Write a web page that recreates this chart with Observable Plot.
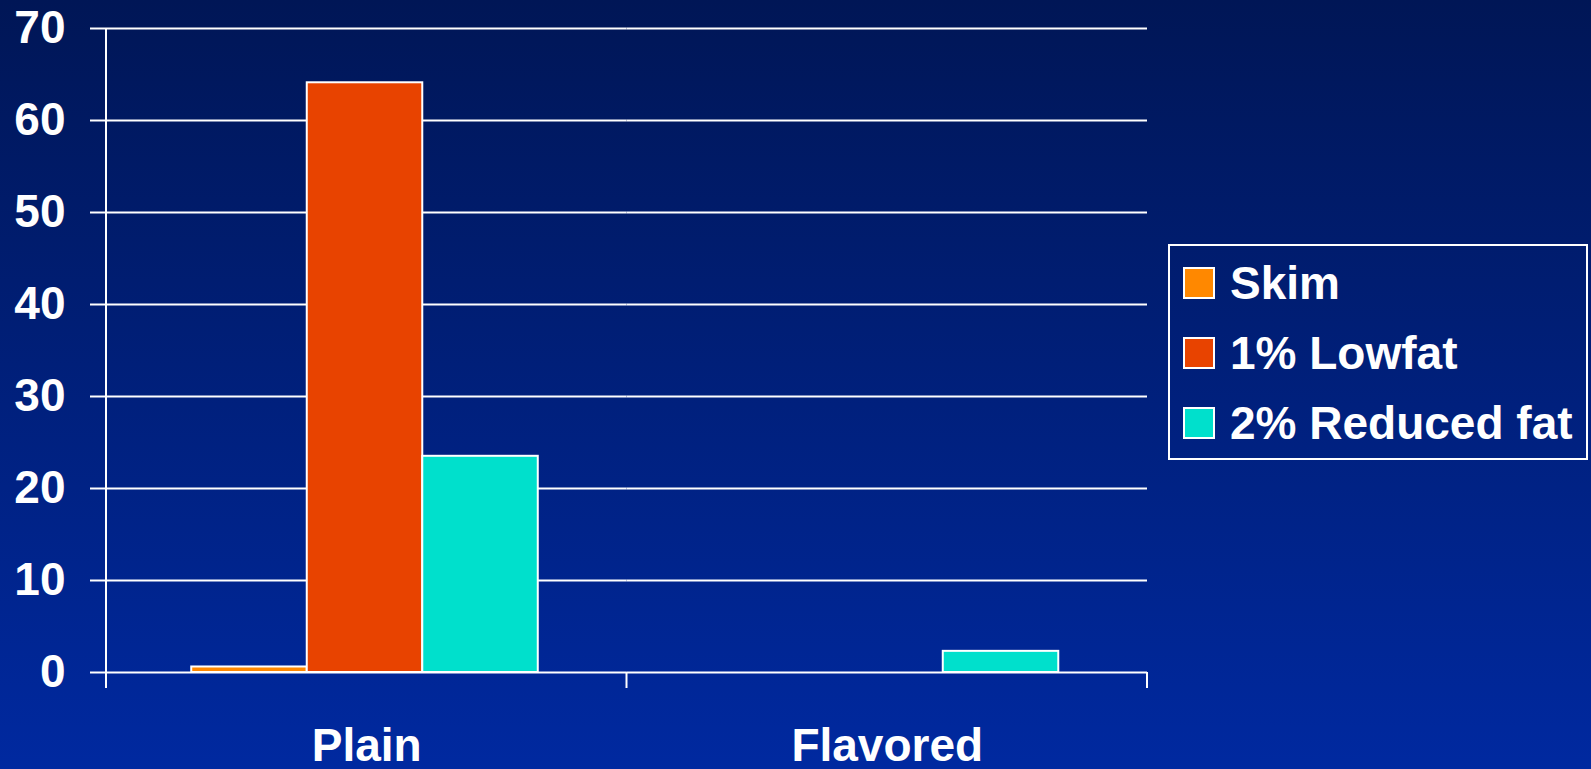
<!DOCTYPE html>
<html>
<head>
<meta charset="utf-8">
<script src="https://cdn.jsdelivr.net/npm/d3@7"></script>
<script src="https://cdn.jsdelivr.net/npm/@observablehq/plot@0.6"></script>
<style>
html, body { margin: 0; padding: 0; width: 1591px; height: 769px; overflow: hidden;
  background: linear-gradient(#001656, #0029a0);
  font-family: "Liberation Sans", Arial, sans-serif; }
#wrap { position: relative; width: 1591px; height: 769px; }
#legend { position: absolute; left: 1168px; top: 244px; width: 420px; box-sizing: border-box;
  border: 2px solid #fff; padding: 2px 0 0 13px; color: #fff; font-weight: bold; font-size: 46px; }
.row { height: 70px; display: flex; align-items: center; white-space: pre; }
.sw { width: 28px; height: 28px; border: 2px solid #fff; margin-right: 15px; flex: none; }
</style>
</head>
<body>
<div id="wrap"><div id="chart"></div><div id="legend"></div></div>
<script>
const categories = ["Plain", "Flavored"];
const series = ["Skim", "1% Lowfat", "2% Reduced fat"];
const skim = [0.6, 0];
const lowfat = [64.1, 0];
const reduced = [23.5, 2.3];
const yTicks = [0, 10, 20, 30, 40, 50, 60, 70];
const colors = ["#ff8800", "#e84300", "#00e0cc"];

const seriesValues = [skim, lowfat, reduced];
const data = [];
categories.forEach((c, i) => series.forEach((s, j) => data.push({category: c, series: s, value: seriesValues[j][i]})));

const font = '"Liberation Sans", Arial, sans-serif';
const chart = Plot.plot({
  width: 1591, height: 769,
  marginLeft: 106, marginRight: 444, marginTop: 28, marginBottom: 97,
  style: {background: "none", color: "white", fontFamily: font, overflow: "visible"},
  fx: {domain: categories, padding: 0, round: false, axis: null, label: null},
  x: {domain: series, paddingInner: 0, paddingOuter: 0.753, align: 0.49, round: false, axis: null, label: null},
  y: {domain: [0, 70], axis: null, label: null},
  color: {domain: series, range: colors},
  marks: [
    Plot.ruleY(yTicks, {stroke: "white", strokeWidth: 2}),
    Plot.barY(data, {fx: "category", x: "series", y: "value", fill: "series", stroke: "white", strokeWidth: 2}),
    Plot.axisY({ticks: yTicks, label: null, tickSize: 16, tickPadding: 25, stroke: "white", strokeWidth: 2, strokeOpacity: 1,
      fill: "white", fontSize: 46, fontWeight: "bold", tickFormat: d => String(d)}),
    Plot.axisFx({anchor: "bottom", label: null, tickSize: 0, tickPadding: 56, fill: "white", fontSize: 46, fontWeight: "bold"})
  ]
});
document.getElementById("chart").appendChild(chart);

// axis line and category separators, positioned through Plot's own scales
const fxs = chart.scale("fx"), ys = chart.scale("y");
const y0 = ys.apply(0), yTop = ys.apply(d3.max(yTicks));
const edges = [...categories.map(c => fxs.apply(c)), fxs.range[1]];
d3.select(chart).append("g")
  .selectAll("line").data(edges).join("line")
  .attr("x1", d => d).attr("x2", d => d)
  .attr("y1", (d, i) => i === 0 ? yTop : y0).attr("y2", y0 + 16)
  .attr("stroke", "white").attr("stroke-width", 2);

const legend = d3.select("#legend");
series.forEach((s, i) => {
  const row = legend.append("div").attr("class", "row");
  row.append("div").attr("class", "sw").style("background", colors[i]);
  row.append("span").text(s);
});
</script>
</body>
</html>
